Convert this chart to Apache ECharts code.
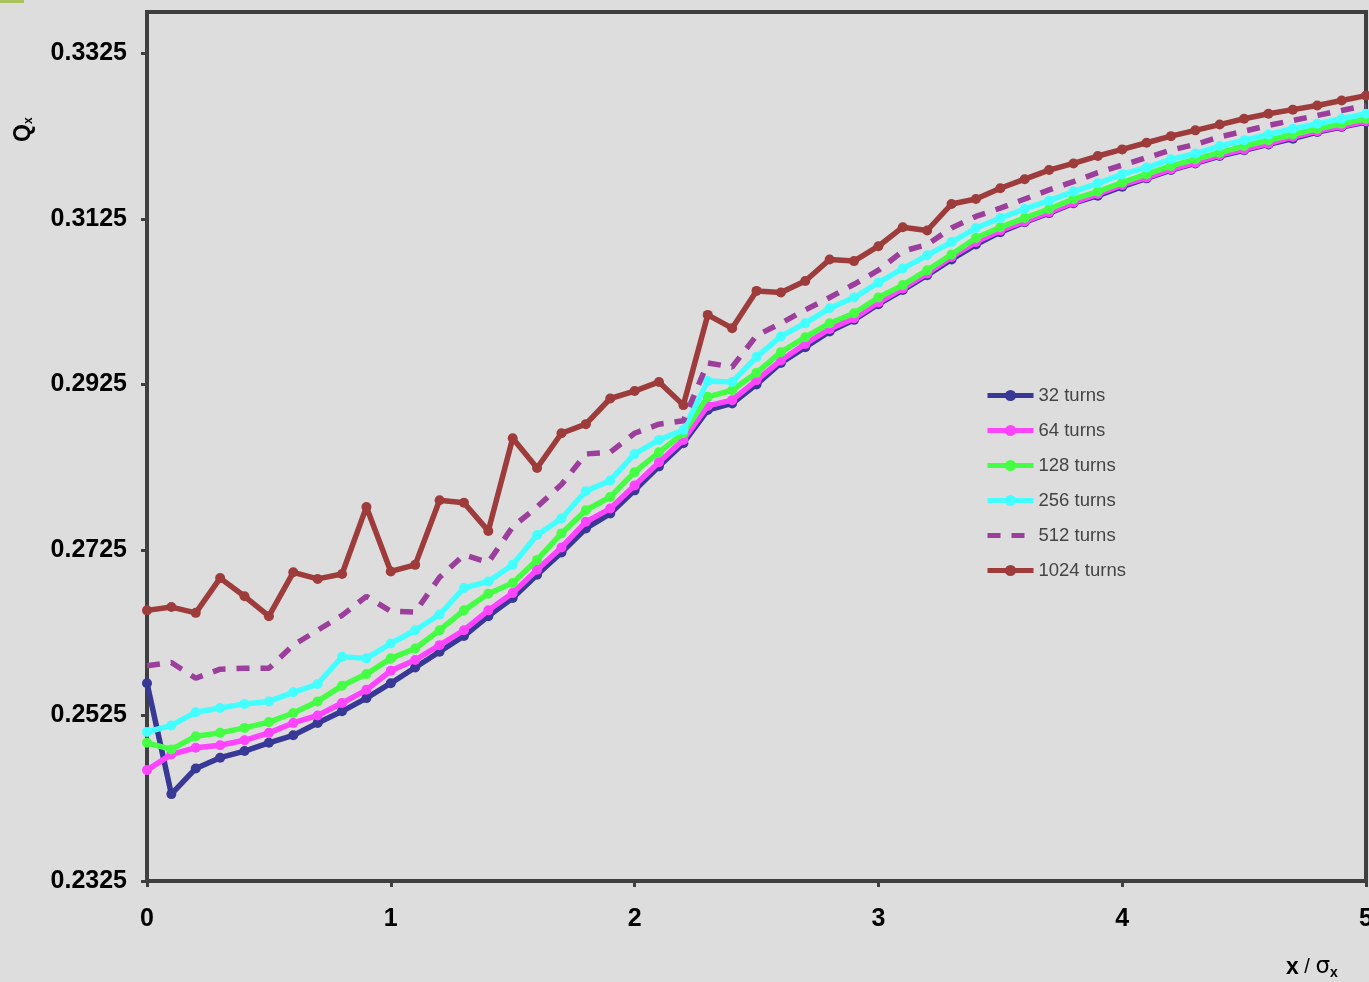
<!DOCTYPE html>
<html>
<head>
<meta charset="utf-8">
<script src="https://cdn.jsdelivr.net/npm/echarts@6/dist/echarts.min.js"></script>
<style>
  html, body { margin: 0; padding: 0; background: #dddddd; }
  #chart { width: 1369px; height: 982px; }
</style>
</head>
<body>
<div id="chart"></div>
<script>
// Horizontal positions x / sigma_x of each sample
const xPos = [0, 0.1, 0.2, 0.3, 0.4, 0.5, 0.6, 0.7, 0.8, 0.9,
              1.0, 1.1, 1.2, 1.3, 1.4, 1.5, 1.6, 1.7, 1.8, 1.9,
              2.0, 2.1, 2.2, 2.3, 2.4, 2.5, 2.6, 2.7, 2.8, 2.9,
              3.0, 3.1, 3.2, 3.3, 3.4, 3.5, 3.6, 3.7, 3.8, 3.9,
              4.0, 4.1, 4.2, 4.3, 4.4, 4.5, 4.6, 4.7, 4.8, 4.9, 5.0];

// Tune Qx computed over different numbers of turns
const q32 = [0.2564, 0.2430, 0.2461, 0.2474, 0.2482, 0.2492, 0.2501, 0.2516, 0.2530, 0.2546,
             0.2564, 0.2583, 0.2602, 0.2621, 0.2645, 0.2667, 0.2695, 0.2722, 0.2751, 0.2769,
             0.2797, 0.2826, 0.2854, 0.2894, 0.2902, 0.2925, 0.2951, 0.2970, 0.2989, 0.3003,
             0.3022, 0.3039, 0.3057, 0.3076, 0.3094, 0.3109, 0.3121, 0.3132, 0.3144, 0.3153,
             0.3164, 0.3174, 0.3184, 0.3192, 0.3201, 0.3208, 0.3215, 0.3222, 0.3230, 0.3236, 0.3242];

const q64 = [0.2459, 0.2478, 0.2486, 0.2489, 0.2495, 0.2504, 0.2516, 0.2525, 0.2540, 0.2556,
             0.2579, 0.2592, 0.2610, 0.2628, 0.2652, 0.2673, 0.2701, 0.2728, 0.2759, 0.2775,
             0.2803, 0.2831, 0.2858, 0.2899, 0.2906, 0.2930, 0.2954, 0.2974, 0.2992, 0.3005,
             0.3024, 0.3041, 0.3059, 0.3079, 0.3097, 0.3111, 0.3122, 0.3133, 0.3145, 0.3155,
             0.3166, 0.3175, 0.3185, 0.3193, 0.3202, 0.3209, 0.3216, 0.3224, 0.3231, 0.3237, 0.3243];

const q128 = [0.2492, 0.2484, 0.2500, 0.2504, 0.2510, 0.2517, 0.2528, 0.2542, 0.2561, 0.2575,
              0.2594, 0.2606, 0.2628, 0.2652, 0.2672, 0.2685, 0.2713, 0.2745, 0.2773, 0.2789,
              0.2819, 0.2843, 0.2866, 0.2910, 0.2918, 0.2939, 0.2964, 0.2982, 0.2999, 0.3011,
              0.3030, 0.3045, 0.3063, 0.3082, 0.3102, 0.3115, 0.3126, 0.3137, 0.3149, 0.3158,
              0.3169, 0.3179, 0.3189, 0.3197, 0.3205, 0.3213, 0.3220, 0.3227, 0.3234, 0.3240, 0.3246];

const q256 = [0.2505, 0.2513, 0.2529, 0.2534, 0.2539, 0.2542, 0.2553, 0.2563, 0.2596, 0.2594,
              0.2612, 0.2628, 0.2647, 0.2679, 0.2687, 0.2707, 0.2743, 0.2763, 0.2796, 0.2809,
              0.2841, 0.2858, 0.2870, 0.2929, 0.2928, 0.2958, 0.2983, 0.2999, 0.3017, 0.3030,
              0.3048, 0.3065, 0.3081, 0.3097, 0.3114, 0.3126, 0.3137, 0.3147, 0.3158, 0.3168,
              0.3179, 0.3187, 0.3197, 0.3204, 0.3213, 0.3220, 0.3227, 0.3234, 0.3240, 0.3246, 0.3252];

const q512 = [0.2585, 0.2589, 0.2570, 0.2581, 0.2582, 0.2582, 0.2610, 0.2628, 0.2646, 0.2669,
              0.2651, 0.2650, 0.2692, 0.2719, 0.2710, 0.2753, 0.2777, 0.2804, 0.2841, 0.2843,
              0.2866, 0.2877, 0.2881, 0.2951, 0.2946, 0.2984, 0.2999, 0.3015, 0.3030, 0.3046,
              0.3063, 0.3086, 0.3094, 0.3114, 0.3128, 0.3138, 0.3149, 0.3160, 0.3170, 0.3181,
              0.3190, 0.3199, 0.3208, 0.3215, 0.3224, 0.3231, 0.3238, 0.3244, 0.3250, 0.3256, 0.3262];

const q1024 = [0.2652, 0.2656, 0.2649, 0.2691, 0.2669, 0.2645, 0.2698, 0.2690, 0.2696, 0.2777,
               0.2699, 0.2707, 0.2785, 0.2782, 0.2748, 0.2860, 0.2824, 0.2866, 0.2877, 0.2908,
               0.2917, 0.2928, 0.2900, 0.3009, 0.2993, 0.3038, 0.3036, 0.3050, 0.3076, 0.3074,
               0.3092, 0.3115, 0.3111, 0.3143, 0.3149, 0.3162, 0.3173, 0.3184, 0.3192, 0.3201,
               0.3209, 0.3217, 0.3225, 0.3232, 0.3239, 0.3246, 0.3252, 0.3257, 0.3262, 0.3268, 0.3274];

const seriesNames = ['32 turns', '64 turns', '128 turns', '256 turns', '512 turns', '1024 turns'];
const seriesValues = [q32, q64, q128, q256, q512, q1024];
const seriesColors = ['#383896', '#ff44ff', '#44ff44', '#44ffff', '#9c3f9c', '#9e3b3b'];
const dashedName = '512 turns';

const yMin = 0.2325, yMax = 0.3375, yStep = 0.02;
const xMin = 0, xMax = 5, xStep = 1;

const axisDark = '#3f3f3f';
const fontFam = '"Liberation Sans", Arial, Helvetica, sans-serif';

const chart = echarts.init(document.getElementById('chart'), null, { renderer: 'canvas' });

const series = seriesNames.map((name, i) => {
  const dashed = name === dashedName;
  return {
    name: name,
    type: 'line',
    data: xPos.map((x, j) => [x, seriesValues[i][j]]),
    symbol: dashed ? 'none' : 'circle',
    symbolSize: 10,
    showSymbol: !dashed,
    clip: false,
    lineStyle: {
      color: seriesColors[i],
      width: 5.5,
      type: dashed ? [13, 11] : 'solid'
    },
    itemStyle: { color: seriesColors[i] },
    emphasis: { disabled: true },
    animation: false,
    z: 2 + i
  };
});

// The dashed series has no markers, so its legend key shows only the dashes
const legendData = seriesNames.map(name =>
  name === dashedName ? { name: name, itemStyle: { opacity: 0 } } : { name: name }
);

chart.setOption({
  backgroundColor: '#dddddd',
  animation: false,
  grid: {
    left: 147, right: 3, top: 12, bottom: 101,
    outerBoundsMode: 'none',
    containLabel: false,
    show: true,
    borderColor: axisDark,
    borderWidth: 4,
    backgroundColor: 'transparent'
  },
  legend: {
    orient: 'vertical',
    left: 985,
    top: 386,
    padding: 0,
    itemWidth: 46,
    itemHeight: 14,
    itemGap: 16,
    lineStyle: { width: 5 },
    textStyle: { fontFamily: fontFam, fontSize: 18.5, color: '#444444' },
    data: legendData
  },
  xAxis: {
    type: 'value',
    min: xMin, max: xMax, interval: xStep,
    axisLine: { show: true, lineStyle: { color: axisDark, width: 4 } },
    axisTick: { show: true, length: 6, lineStyle: { color: axisDark, width: 3 } },
    splitLine: { show: false },
    axisLabel: {
      margin: 26,
      fontFamily: fontFam, fontSize: 25, fontWeight: 'bold', color: '#000'
    }
  },
  yAxis: {
    type: 'value',
    min: yMin, max: yMax, interval: yStep,
    axisLine: { show: true, lineStyle: { color: axisDark, width: 4 } },
    axisTick: { show: true, length: 6, lineStyle: { color: axisDark, width: 3 } },
    splitLine: { show: false },
    axisLabel: {
      margin: 20,
      showMaxLabel: false,
      fontFamily: fontFam, fontSize: 25, fontWeight: 'bold', color: '#000',
      formatter: v => v.toFixed(4)
    }
  },
  graphic: [
    {
      type: 'rect', left: 0, top: 0,
      shape: { width: 24, height: 3 },
      style: { fill: '#a9c25c' }
    },
    {
      type: 'text',
      x: 12, y: 142,
      rotation: Math.PI / 2,
      style: {
        text: '{q|Q}{s|x}',
        rich: {
          q: { fontFamily: fontFam, fontSize: 23, fontWeight: 'bold', fill: '#000' },
          s: { fontFamily: fontFam, fontSize: 12, fontWeight: 'bold', fill: '#000', verticalAlign: 'bottom', padding: [6, 0, 0, 0] }
        }
      }
    },
    {
      type: 'text',
      x: 1286, y: 955,
      style: {
        text: '{b|x}{n| / }{g|σ}{s|x}',
        rich: {
          b: { fontFamily: fontFam, fontSize: 23, fontWeight: 'bold', fill: '#000' },
          n: { fontFamily: fontFam, fontSize: 20, fill: '#000' },
          g: { fontFamily: '"DejaVu Sans", sans-serif', fontSize: 23, fill: '#000' },
          s: { fontFamily: fontFam, fontSize: 14, fontWeight: 'bold', fill: '#000', padding: [11, 0, 0, 0] }
        }
      }
    }
  ],
  series: series
});
</script>
</body>
</html>
